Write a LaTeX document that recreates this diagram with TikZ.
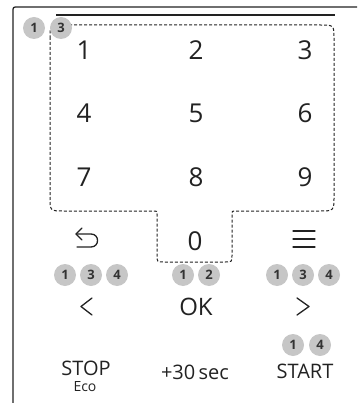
\documentclass[tikz,border=0pt]{standalone}
\usepackage{fontspec}
\setmainfont{Open Sans}
\definecolor{ink}{HTML}{222222}
\definecolor{badgegray}{HTML}{C6C6C6}
\definecolor{badgetext}{HTML}{333333}
\begin{document}
\begin{tikzpicture}[x=1pt,y=-1pt,
  outline/.style={line width=1.3pt, draw=ink},
  dashbox/.style={line width=1pt, draw=ink, dash pattern=on 3pt off 2pt},
  badge/.style={circle, fill=badgegray, minimum size=22pt, inner sep=0pt, font=\fontsize{13}{13}\selectfont\bfseries, text=badgetext},
  digit/.style={anchor=base, inner sep=0pt, font=\fontsize{26}{26}\selectfont, text=ink},
  keylabel/.style={anchor=base, inner sep=0pt, font=\fontsize{20}{20}\selectfont, text=ink},
  icon/.style={line width=1.3pt, draw=ink, line cap=round, line join=round}]
\useasboundingbox (0,0) rectangle (357,403);
% outer frame
\draw[outline] (13,403) -- (13,12) .. controls (13,7) .. (18,7) -- (357,7);
\draw[outline] (56,15) -- (335,15);
% dashed keypad outline
\draw[dashbox] (50,37) -- (50,197) .. controls (50,211) .. (64,211) -- (154,211)
  .. controls (157,211) .. (157,214) -- (157,255) .. controls (157,262) .. (164,262)
  -- (225,262) .. controls (232,262) .. (232,255) -- (232,214) .. controls (232,211) .. (235,211)
  -- (319,211) .. controls (334,211) .. (334,196) -- (334,39) .. controls (334,25) .. (320,25)
  -- (62,25) .. controls (50,25) .. (50,37) -- cycle;
% digits
\node[digit] (k1) at (84,60) {1};
\node[digit] (k2) at (196,60) {2};
\node[digit] (k3) at (305,60) {3};
\node[digit] (k4) at (84,123) {4};
\node[digit] (k5) at (196,123) {5};
\node[digit] (k6) at (305,123) {6};
\node[digit] (k7) at (84,186) {7};
\node[digit] (k8) at (196,186) {8};
\node[digit] (k9) at (305,186) {9};
\node[digit] (k0) at (195,250) {0};
% back icon
\draw[icon] (82,228) -- (76,234) -- (82,240);
\draw[icon] (76,234) -- (91,234) .. controls (99.7,234) and (99.7,247) .. (91,247) -- (77,247);
% menu icon
\draw[icon] (293,231) -- (315,231);
\draw[icon] (293,239) -- (315,239);
\draw[icon] (293,247) -- (315,247);
% chevrons and OK
\draw[icon] (92,298) -- (81,306.5) -- (92,315);
\draw[icon] (297,298) -- (309,306.5) -- (297,315);
\node[keylabel, font=\fontsize{24}{24}\selectfont] (ok) at (196,315) {OK};
% bottom labels
\node[keylabel] (stop) at (86,375) {STOP};
\node[keylabel, font=\fontsize{14}{14}\selectfont] (eco) at (85,391) {Eco};
\node[keylabel] (plus) at (195,379) {+30\,sec};
\node[keylabel] (start) at (305,378) {START};
% badges
\node[badge] (t1) at (34,28) {1};
\node[badge] (t3) at (61,28) {3};
\node[badge] (l1) at (65,275) {1};
\node[badge] (l3) at (91,275) {3};
\node[badge] (l4) at (117,275) {4};
\node[badge] (o1) at (183,275) {1};
\node[badge] (o2) at (209,275) {2};
\node[badge] (r1) at (277,275) {1};
\node[badge] (r3) at (303,275) {3};
\node[badge] (r4) at (329,275) {4};
\node[badge] (s1) at (293,345) {1};
\node[badge] (s4) at (320,345) {4};
\end{tikzpicture}
\end{document}
